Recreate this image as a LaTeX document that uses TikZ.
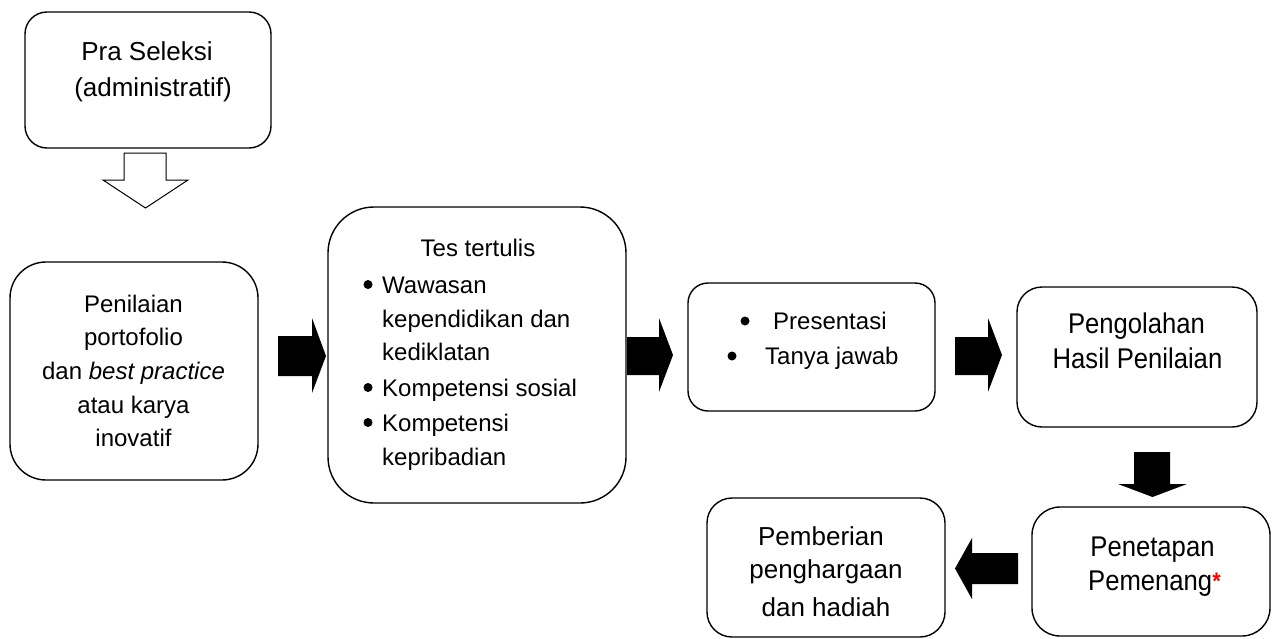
\documentclass[tikz,border=0pt]{standalone}
\usepackage{fontspec}
\setmainfont{Liberation Sans}
\newfontfamily\narrowfont[FakeStretch=0.9]{Liberation Sans}
\usetikzlibrary{calc}
\tikzset{
  box/.style={draw=black, line width=1.4pt, rectangle, inner sep=0pt},
  txt/.style={inner sep=0pt, anchor=base, font=\fontsize{24}{28}\selectfont},
  txtl/.style={inner sep=0pt, anchor=base west, font=\fontsize{24}{28}\selectfont},
  txtbig/.style={txt, font=\fontsize{26}{30}\selectfont},
  txttall/.style={txt, font=\narrowfont\fontsize{28.5}{32}\selectfont},
  blk/.style={fill=black, draw=none},
  hollow/.style={draw=black, line width=1pt, fill=white},
  bul/.style={fill=black}
}
\begin{document}
\begin{tikzpicture}[x=1pt, y=-1pt]
\useasboundingbox (0,0) rectangle (1275,638);
% boxes
\node[box, rounded corners=22pt, minimum width=246pt, minimum height=136pt] (b1) at (148,80) {};
\node[box, rounded corners=36pt, minimum width=248pt, minimum height=218pt] (b2) at (134,371) {};
\node[box, rounded corners=46pt, minimum width=298pt, minimum height=296pt] (b3) at (477,355) {};
\node[box, rounded corners=20pt, minimum width=247pt, minimum height=128pt] (b4) at (811.5,347) {};
\node[box, rounded corners=25pt, minimum width=240pt, minimum height=140pt] (b5) at (1137,357) {};
\node[box, rounded corners=28pt, minimum width=238pt, minimum height=129pt] (b6) at (1151,571.5) {};
\node[box, rounded corners=25pt, minimum width=238pt, minimum height=139pt] (b7) at (826,567.5) {};
% texts box 1
\node[txtbig] (t1a) at (147,60) {Pra Seleksi};
\node[txtbig] (t1b) at (153,96) {(administratif)};
% box 2
\node[txt] (t2a) at (133.5,312) {Penilaian};
\node[txt] (t2b) at (133.5,345.5) {portofolio};
\node[txt] (t2c) at (133.5,379) {dan \textit{best practice}};
\node[txt] (t2d) at (133.5,413) {atau karya};
\node[txt] (t2e) at (133.5,446.5) {inovatif};
% box 3
\node[txt] (t3a) at (478,256) {Tes tertulis};
\node[txtl] (t3b) at (382,293) {Wawasan};
\node[txtl] (t3c) at (382,327) {kependidikan dan};
\node[txtl] (t3d) at (382,360) {kediklatan};
\node[txtl] (t3e) at (382,396) {Kompetensi sosial};
\node[txtl] (t3f) at (382,431) {Kompetensi};
\node[txtl] (t3g) at (382,465) {kepribadian};
\fill[bul] (368,284.5) circle (4.5);
\fill[bul] (368,387.5) circle (4.5);
\fill[bul] (368,422.5) circle (4.5);
% box 4
\node[txtl] (t4a) at (773,329) {Presentasi};
\node[txtl] (t4b) at (765,364) {Tanya jawab};
\fill[bul] (745,321) circle (4.5);
\fill[bul] (732,356) circle (4.5);
% box 5
\node[txttall] (t5a) at (1136.5,333.5) {Pengolahan};
\node[txttall] (t5b) at (1137.5,368.5) {Hasil Penilaian};
% box 6
\node[txttall] (t6a) at (1152.5,556) {Penetapan};
\node[txttall, anchor=base west] (t6b) at (1088,590) {Pemenang{\color{red}\bfseries\fontsize{24}{24}\selectfont\raisebox{1pt}{*}}};
% box 7
\node[txtbig] (t7a) at (821,545) {Pemberian};
\node[txtbig] (t7b) at (826,578) {penghargaan};
\node[txtbig] (t7c) at (826,616) {dan hadiah};
% hollow arrow down
\draw[hollow] (124,153) -- (166,153) -- (166,180) -- (188,180) -- (145.5,208) -- (103,180) -- (124,180) -- cycle;
% black arrows
\fill[blk] (278,336) -- (312,336) -- (312,318) -- (326,356) -- (312,393) -- (312,376) -- (278,376) -- cycle;
\fill[blk] (627,337) -- (659,337) -- (659,318) -- (673,355) -- (659,392) -- (659,375) -- (627,375) -- cycle;
\fill[blk] (955,337) -- (988,337) -- (988,318) -- (1002,355) -- (988,392) -- (988,375) -- (955,375) -- cycle;
\fill[blk] (1134,452) -- (1170,452) -- (1170,484) -- (1187,484) -- (1152.5,497) -- (1118,484) -- (1134,484) -- cycle;
\fill[blk] (1018,553) -- (972,553) -- (972,538) -- (955,568.5) -- (972,599) -- (972,584) -- (1018,584) -- cycle;
\end{tikzpicture}
\end{document}
